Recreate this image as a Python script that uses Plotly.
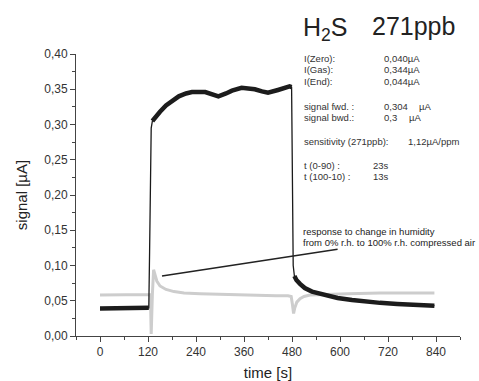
import plotly.graph_objects as go

# ---- data ----
black_base_t = [0, 20, 40, 60, 80, 100, 120, 122]
black_base_v = [0.039, 0.039, 0.039, 0.039, 0.039, 0.039, 0.039, 0.040]

black_rise_t = [122, 124, 126, 128, 131]
black_rise_v = [0.040, 0.120, 0.250, 0.295, 0.305]

black_plat_t = [131, 140, 150, 165, 180, 197, 215, 230, 263, 280, 296, 315, 330, 354, 387, 405, 420, 445, 460, 474, 479]
black_plat_v = [0.305, 0.312, 0.318, 0.327, 0.334, 0.340, 0.344, 0.346, 0.346, 0.343, 0.340, 0.344, 0.348, 0.352, 0.350, 0.347, 0.345, 0.349, 0.352, 0.354, 0.353]

black_fall_t = [479, 481, 483, 486]
black_fall_v = [0.353, 0.200, 0.100, 0.085]

black_decay_t = [486, 491, 500, 512, 530, 545, 570, 594, 630, 661, 700, 743, 790, 836]
black_decay_v = [0.085, 0.0795, 0.074, 0.068, 0.063, 0.061, 0.057, 0.054, 0.051, 0.049, 0.047, 0.0455, 0.044, 0.043]

gray_t = [0, 30, 60, 90, 120, 126, 127, 128, 131, 134, 137, 142, 150, 165, 185, 210, 250, 300, 350, 400, 440, 470, 478, 481, 484, 487, 492, 500, 510, 525, 560, 620, 700, 780, 836]
gray_v = [0.058, 0.058, 0.058, 0.058, 0.058, 0.059, 0.030, 0.003, 0.060, 0.094, 0.088, 0.078, 0.071, 0.066, 0.063, 0.061, 0.060, 0.059, 0.059, 0.058, 0.057, 0.057, 0.056, 0.045, 0.032, 0.040, 0.048, 0.053, 0.056, 0.058, 0.059, 0.060, 0.061, 0.061, 0.061]

arrow_t = [155, 594]
arrow_v = [0.0852, 0.123]

info_labels = ["I(Zero):", "I(Gas):", "I(End):", "signal fwd. :", "signal bwd.:",
               "sensitivity (271ppb):", "t (0-90) :", "t (100-10) :"]
info_values = ["0,040µA", "0,344µA", "0,044µA", "0,304", "0,3", "1,12µA/ppm", "23s", "13s"]
info_units = ["", "", "", "µA", "µA", "", "", ""]

FONT = "Liberation Sans, Arial, sans-serif"
L, R, T, B = 76, 19, 54, 45
W, H = 479, 381
PW, PH = W - L - R, H - T - B


def px(x):
    return (x - L) / PW


def py(y):
    return (H - B - y) / PH


fig = go.Figure()
# gray (humidity) curve
fig.add_trace(go.Scatter(x=gray_t, y=gray_v, mode="lines",
                         line=dict(color="#cdcdcd", width=3), showlegend=False))
# thin black connector through all black points
all_t = black_base_t + black_rise_t + black_plat_t + black_fall_t + black_decay_t
all_v = black_base_v + black_rise_v + black_plat_v + black_fall_v + black_decay_v
fig.add_trace(go.Scatter(x=all_t, y=all_v, mode="lines",
                         line=dict(color="#1a1a1a", width=1.3), showlegend=False))
for tt, vv in [(black_base_t, black_base_v), (black_plat_t, black_plat_v), (black_decay_t, black_decay_v)]:
    fig.add_trace(go.Scatter(x=tt, y=vv, mode="lines",
                             line=dict(color="#1c1c1c", width=4.5), showlegend=False))

fig.add_shape(type="line", x0=arrow_t[0], y0=arrow_v[0], x1=arrow_t[1], y1=arrow_v[1],
              xref="x", yref="y", line=dict(color="#222", width=1.5))

ann = []
ann.append(dict(text="H<sub>2</sub>S", x=px(301), y=py(29), xref="paper", yref="paper",
                xanchor="left", yanchor="middle", showarrow=False,
                font=dict(family=FONT, size=25, color="#222")))
ann.append(dict(text="271ppb", x=px(370), y=py(26), xref="paper", yref="paper",
                xanchor="left", yanchor="middle", showarrow=False,
                font=dict(family=FONT, size=25, color="#222")))

SMALL = 9.5
label_y = [58.3, 70, 81, 106, 117.3, 141, 165, 176]
value_x = [382, 382, 382, 382, 382, 406, 370.5, 370.5]
unit_x = [0, 0, 0, 416.5, 406.5, 0, 0, 0]
for i, lab in enumerate(info_labels):
    ann.append(dict(text=lab, x=px(301.5), y=py(label_y[i]), xref="paper", yref="paper",
                    xanchor="left", yanchor="middle", showarrow=False,
                    font=dict(family=FONT, size=SMALL, color="#333")))
    ann.append(dict(text=info_values[i], x=px(value_x[i]), y=py(label_y[i]), xref="paper", yref="paper",
                    xanchor="left", yanchor="middle", showarrow=False,
                    font=dict(family=FONT, size=SMALL, color="#333")))
    if info_units[i]:
        ann.append(dict(text=info_units[i], x=px(unit_x[i]), y=py(label_y[i]), xref="paper", yref="paper",
                        xanchor="left", yanchor="middle", showarrow=False,
                        font=dict(family=FONT, size=SMALL, color="#333")))

ann.append(dict(text="response to change in humidity", x=px(301), y=py(231.7), xref="paper", yref="paper",
                xanchor="left", yanchor="middle", showarrow=False,
                font=dict(family=FONT, size=SMALL, color="#222")))
ann.append(dict(text="from 0% r.h. to 100% r.h. compressed air", x=px(301), y=py(242.7), xref="paper", yref="paper",
                xanchor="left", yanchor="middle", showarrow=False,
                font=dict(family=FONT, size=SMALL, color="#222")))

axis_common = dict(showline=True, linecolor="#444", linewidth=1, ticks="outside", tickcolor="#444",
                   ticklen=5, tickwidth=1, showgrid=False, zeroline=False, automargin=False,
                   tickfont=dict(family=FONT, size=12, color="#333"))

fig.update_layout(
    width=W, height=H, margin=dict(l=L, r=R, t=T, b=B),
    paper_bgcolor="white", plot_bgcolor="white",
    separators=",.",
    annotations=ann,
    xaxis=dict(range=[-60, 900], tickmode="array", tickvals=[0, 120, 240, 360, 480, 600, 720, 840],
               minor=dict(dtick=60, tick0=0, ticks="outside", ticklen=3, tickcolor="#444"),
               title=dict(text="time [s]", font=dict(family=FONT, size=15, color="#222"), standoff=9),
               **axis_common),
    yaxis=dict(range=[0, 0.40], dtick=0.05, tick0=0, tickformat=".2f",
               minor=dict(dtick=0.025, ticks="outside", ticklen=3, tickcolor="#444"),
               title=dict(text="signal [µA]", font=dict(family=FONT, size=15, color="#222"), standoff=12),
               **axis_common),
)

fig.write_html("out.html", config={"displayModeBar": False},
               post_script="document.body.style.margin='0';document.body.style.overflow='hidden';")
